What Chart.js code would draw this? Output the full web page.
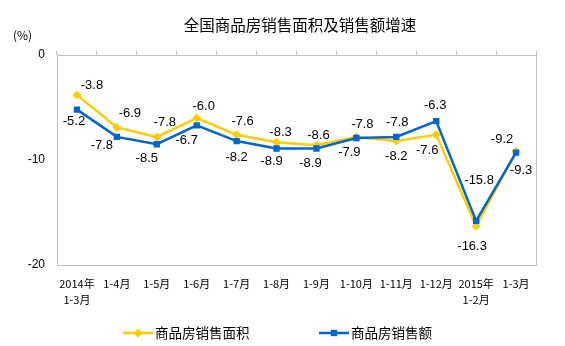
<!DOCTYPE html>
<html lang="zh">
<head>
  <meta charset="UTF-8" />
  <title>全国商品房销售面积及销售额增速</title>
  <script src="https://cdn.jsdelivr.net/npm/chart.js"></script>
  <style>
    html, body { margin: 0; padding: 0; background: #fff; }
    #wrap { width: 565px; height: 346px; }
  </style>
</head>
<body>
  <div id="wrap">
    <canvas id="salesChart" width="565" height="346"></canvas>
  </div>

  <script>
    // 月份（累计）
    const months = [
      ['2014年', '1-3月'], '1-4月', '1-5月', '1-6月', '1-7月', '1-8月',
      '1-9月', '1-10月', '1-11月', '1-12月', ['2015年', '1-2月'], '1-3月'
    ];
    // 商品房销售面积增速 (%)
    const areaGrowth = [-3.8, -6.9, -7.8, -6.0, -7.6, -8.3, -8.6, -7.8, -8.2, -7.6, -16.3, -9.2];
    // 商品房销售额增速 (%)
    const salesGrowth = [-5.2, -7.8, -8.5, -6.7, -8.2, -8.9, -8.9, -7.9, -7.8, -6.3, -15.8, -9.3];
    // 纵轴刻度
    const yTicks = [0, -10, -20];

    const seriesNames = ['商品房销售面积', '商品房销售额'];
    const yellow = '#FFCC00';
    const blue = '#0066CC';
    const axisGray = '#BFBFBF';

    // 数据标签相对于点的偏移 [dx, dy]
    const areaLabelOffset = [
      [15, -9], [13, -14], [8, -14], [7, -12], [6, -13], [4, -10],
      [2, -10], [6, -12], [0, 15], [-9, 16], [-4, 20], [-14, -12]
    ];
    const salesLabelOffset = [
      [-3, 12], [-15, 9], [-10, 14], [-10, 15], [0, 16], [-5, 13],
      [-6, 15], [-7, 14], [1, -14], [-1, -16], [3, -40], [5, 18]
    ];

    // 数据标签
    const valueLabels = {
      id: 'valueLabels',
      afterDatasetsDraw(chart) {
        const ctx = chart.ctx;
        ctx.save();
        ctx.font = '13px "Liberation Sans", Arial, sans-serif';
        ctx.fillStyle = '#000';
        ctx.textAlign = 'center';
        ctx.textBaseline = 'middle';
        chart.data.datasets.forEach((ds, i) => {
          const meta = chart.getDatasetMeta(i);
          const offs = ds.labelOffset;
          meta.data.forEach((pt, j) => {
            const v = ds.data[j];
            ctx.fillText(v.toFixed(1), pt.x + offs[j][0], pt.y + offs[j][1]);
          });
        });
        ctx.restore();
      }
    };

    // 标题、单位、图例
    const decorations = {
      id: 'decorations',
      afterDraw(chart) {
        const ctx = chart.ctx;
        ctx.save();
        ctx.fillStyle = '#000';
        ctx.textBaseline = 'middle';

        ctx.font = '15.5px "Noto Sans CJK SC", sans-serif';
        ctx.textAlign = 'center';
        ctx.fillText('全国商品房销售面积及销售额增速', 300, 25);

        ctx.font = '12px "Noto Sans CJK SC", sans-serif';
        ctx.textAlign = 'left';
        ctx.fillText('(%)', 13, 35);

        // 图例
        const items = [
          { x: 123, color: yellow, style: 'rectRot', ds: 1 },
          { x: 319, color: blue, style: 'rect', ds: 0 }
        ];
        const ly = 333;
        items.forEach(it => {
          const ds = chart.data.datasets[it.ds];
          ctx.strokeStyle = it.color;
          ctx.lineWidth = 2.5;
          ctx.beginPath();
          ctx.moveTo(it.x, ly);
          ctx.lineTo(it.x + 30, ly);
          ctx.stroke();
          ctx.fillStyle = it.color;
          Chart.helpers.drawPoint(ctx, { pointStyle: it.style, rotation: 0, borderWidth: 0, radius: 4.5 }, it.x + 15, ly);
          ctx.fillStyle = '#000';
          ctx.font = '13.5px "Noto Sans CJK SC", sans-serif';
          ctx.fillText(ds.label, it.x + 32, ly);
        });
        ctx.restore();
      }
    };

    new Chart(document.getElementById('salesChart'), {
      type: 'line',
      data: {
        labels: months,
        datasets: [
          {
            label: seriesNames[1],
            data: salesGrowth,
            labelOffset: salesLabelOffset,
            borderColor: blue,
            backgroundColor: blue,
            borderWidth: 2.5,
            pointStyle: 'rect',
            pointRadius: 4.5,
            pointBorderWidth: 0,
            tension: 0
          },
          {
            label: seriesNames[0],
            data: areaGrowth,
            labelOffset: areaLabelOffset,
            borderColor: yellow,
            backgroundColor: yellow,
            borderWidth: 2.5,
            pointStyle: 'rectRot',
            pointRadius: 4.5,
            pointBorderWidth: 0,
            tension: 0
          }
        ]
      },
      options: {
        responsive: false,
        animation: false,
        layout: { padding: { left: 0, top: 50, right: 29, bottom: 36 } },
        plugins: {
          legend: { display: false },
          tooltip: { enabled: false }
        },
        scales: {
          x: {
            position: 'bottom',
            offset: true,
            grid: { display: false, drawTicks: false },
            border: { color: axisGray, width: 1 },
            ticks: {
              color: '#000',
              padding: 11,
              maxRotation: 0,
              autoSkip: false,
              font: { family: '"Noto Sans CJK SC", sans-serif', size: 11, lineHeight: 1.45 }
            },
            afterFit: s => { s.height = 45; }
          },
          xTop: {
            position: 'top',
            type: 'category',
            offset: true,
            ticks: { display: false },
            grid: { drawOnChartArea: false, drawTicks: true, tickLength: 4, color: axisGray, offset: true },
            border: { color: axisGray, width: 1 },
            afterFit: s => { s.height = 5; }
          },
          y: {
            position: 'left',
            min: -20,
            max: 0,
            grid: { display: false, drawTicks: false },
            border: { color: axisGray, width: 1 },
            ticks: {
              color: '#000',
              padding: 12,
              font: { family: '"Liberation Sans", Arial, sans-serif', size: 12 }
            },
            afterBuildTicks: s => { s.ticks = yTicks.map(v => ({ value: v })); },
            afterFit: s => { s.width = 57; }
          },
          yRight: {
            position: 'right',
            min: -20,
            max: 0,
            grid: { display: false, drawTicks: false },
            ticks: { display: false },
            border: { color: axisGray, width: 1 },
            afterFit: s => { s.width = 0; }
          }
        }
      },
      plugins: [valueLabels, decorations]
    });
  </script>
</body>
</html>
